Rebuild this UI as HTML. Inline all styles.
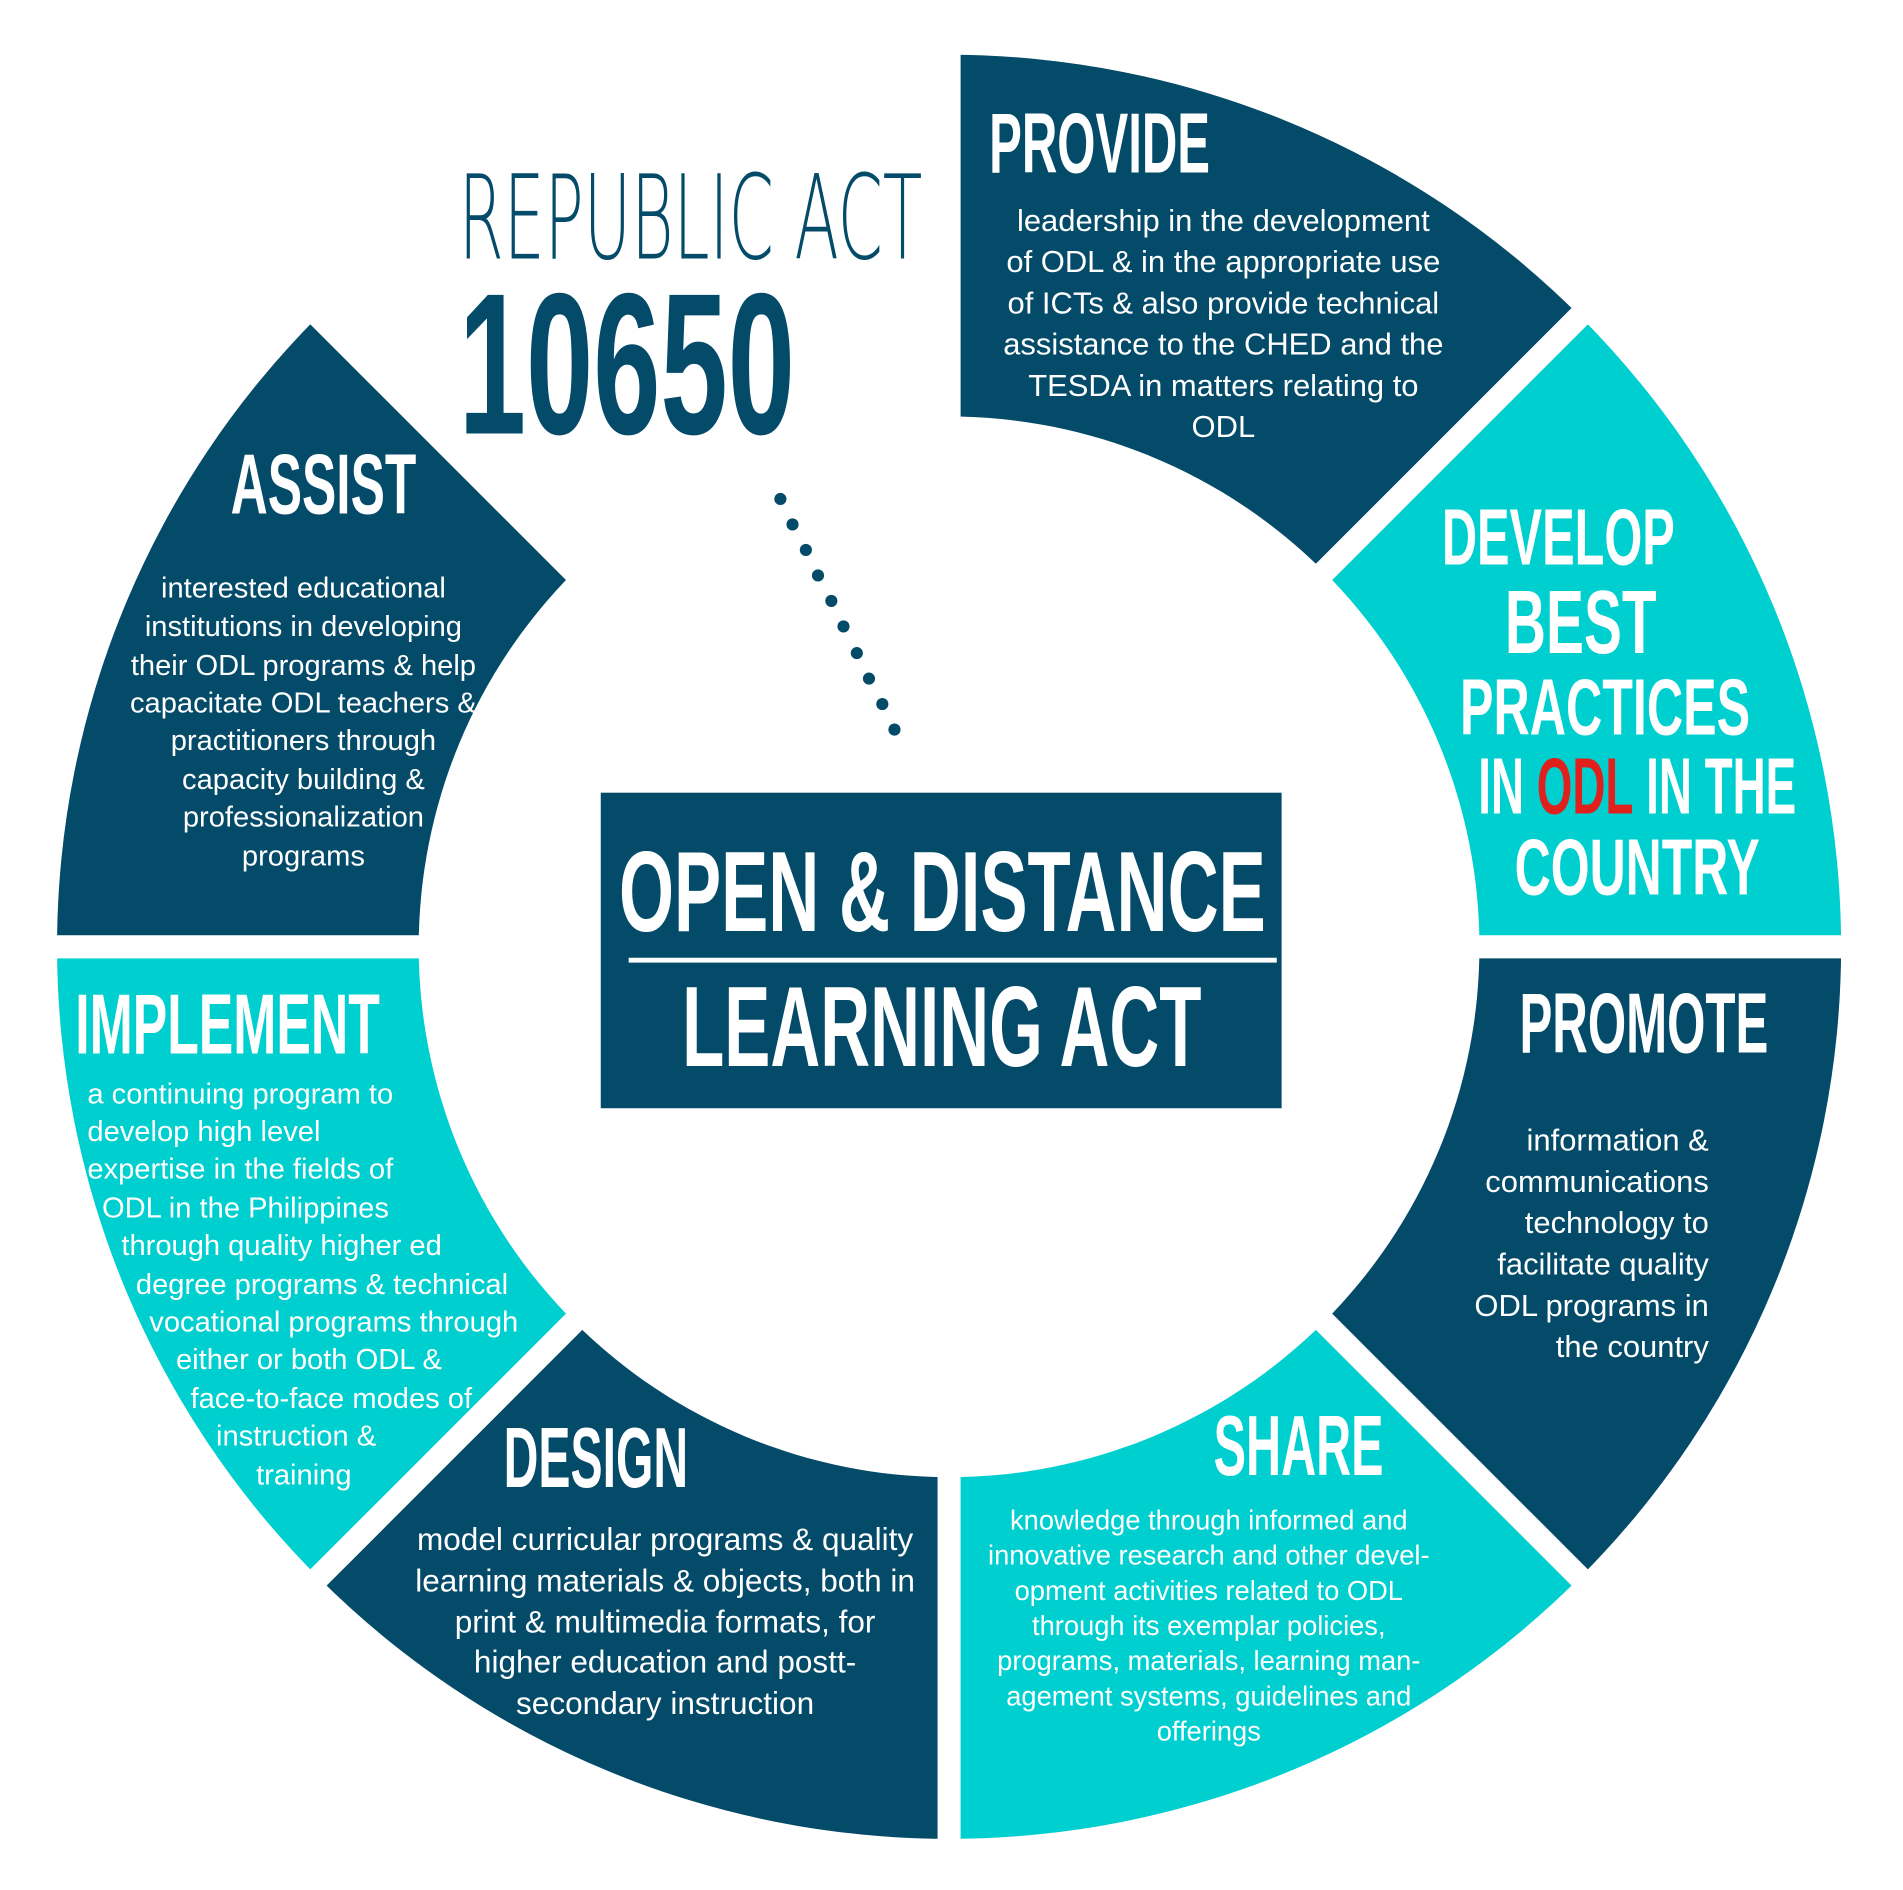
<!DOCTYPE html>
<html><head><meta charset="utf-8"><style>html,body{margin:0;padding:0;background:#fff}svg{display:block}</style></head>
<body>
<svg width="1903" height="1890" viewBox="0 0 1568 1557" xmlns="http://www.w3.org/2000/svg" font-family="'Liberation Sans', sans-serif">
<rect width="1568" height="1557" fill="#fff"/>
<g>
<path d="M782,780 L782,45 A735,735 0 0 1 1301.7,260.3 Z" fill="#044a69"/>
<path d="M782,780 L1301.7,260.3 A735,735 0 0 1 1517,780 Z" fill="#00cfd0"/>
<path d="M782,780 L1517,780 A735,735 0 0 1 1301.7,1299.7 Z" fill="#044a69"/>
<path d="M782,780 L1301.7,1299.7 A735,735 0 0 1 782,1515 Z" fill="#00cfd0"/>
<path d="M782,780 L782,1515 A735,735 0 0 1 262.3,1299.7 Z" fill="#044a69"/>
<path d="M782,780 L262.3,1299.7 A735,735 0 0 1 47,780 Z" fill="#00cfd0"/>
<path d="M782,780 L47,780 A735,735 0 0 1 262.3,260.3 Z" fill="#044a69"/>
</g>
<g stroke="#fff" stroke-width="19">
<line x1="782" y1="0" x2="782" y2="1557"/>
<line x1="0" y1="780" x2="1568" y2="780"/>
<line x1="0" y1="-2" x2="1564" y2="1562"/>
<line x1="0" y1="1562" x2="1564" y2="-2"/>
</g>
<circle cx="782" cy="780" r="437" fill="#fff"/>

<text x="378" y="213" font-size="96" font-family="'DejaVu Sans', sans-serif" font-weight="200" fill="#044a69" textLength="382" lengthAdjust="spacingAndGlyphs">REPUBLIC ACT</text>
<text x="378" y="357" font-size="166" font-weight="bold" fill="#044a69" textLength="277" lengthAdjust="spacingAndGlyphs">10650</text>
<g fill="#044a69">
<circle cx="643" cy="411" r="5"/><circle cx="653" cy="432" r="5"/><circle cx="664" cy="453" r="5"/><circle cx="674" cy="474" r="5"/><circle cx="685" cy="495" r="5"/><circle cx="695" cy="516" r="5"/><circle cx="706" cy="538" r="5"/><circle cx="716" cy="559" r="5"/><circle cx="727" cy="580" r="5"/><circle cx="737" cy="601" r="5"/>
</g>

<rect x="495" y="653" width="561" height="260" fill="#044a69"/>
<text x="510" y="767" font-size="94" font-weight="bold" fill="#fff" textLength="533" lengthAdjust="spacingAndGlyphs">OPEN &amp; DISTANCE</text>
<rect x="518" y="789" width="534" height="4" fill="#fff"/>
<text x="562" y="878" font-size="94" font-weight="bold" fill="#fff" textLength="428" lengthAdjust="spacingAndGlyphs">LEARNING ACT</text>

<g font-weight="bold" fill="#fff" font-size="70">
<text x="815" y="142" textLength="182" lengthAdjust="spacingAndGlyphs">PROVIDE</text>
<text x="190" y="423" textLength="153" lengthAdjust="spacingAndGlyphs">ASSIST</text>
<text x="62" y="868" textLength="251" lengthAdjust="spacingAndGlyphs">IMPLEMENT</text>
<text x="415" y="1225" textLength="152" lengthAdjust="spacingAndGlyphs">DESIGN</text>
<text x="1000" y="1215" textLength="140" lengthAdjust="spacingAndGlyphs">SHARE</text>
<text x="1252" y="867" textLength="205" lengthAdjust="spacingAndGlyphs">PROMOTE</text>
<text x="1188" y="465" font-size="66" textLength="192" lengthAdjust="spacingAndGlyphs">DEVELOP</text>
<text x="1240" y="538" font-size="74" textLength="125" lengthAdjust="spacingAndGlyphs">BEST</text>
<text x="1203" y="605" font-size="66" textLength="239" lengthAdjust="spacingAndGlyphs">PRACTICES</text>
<text x="1218" y="670" font-size="66" textLength="262" lengthAdjust="spacingAndGlyphs">IN <tspan fill="#e0201c">ODL</tspan> IN THE</text>
<text x="1248" y="737" font-size="66" textLength="202" lengthAdjust="spacingAndGlyphs">COUNTRY</text>
</g>

<g fill="#fff" font-size="25.5" text-anchor="middle">
<text x="1008" y="190">leadership in the development</text>
<text x="1008" y="224">of ODL &amp; in the appropriate use</text>
<text x="1008" y="258">of ICTs &amp; also provide technical</text>
<text x="1008" y="292">assistance to the CHED and the</text>
<text x="1008" y="326">TESDA in matters relating to</text>
<text x="1008" y="360">ODL</text>
</g>
<g fill="#fff" font-size="24" text-anchor="middle">
<text x="250" y="492">interested educational</text>
<text x="250" y="524">institutions in developing</text>
<text x="250" y="556">their ODL programs &amp;  help</text>
<text x="250" y="587">capacitate ODL teachers &amp;</text>
<text x="250" y="618">practitioners through</text>
<text x="250" y="650">capacity building &amp;</text>
<text x="250" y="681">professionalization</text>
<text x="250" y="713">programs</text>
</g>
<g fill="#fff" font-size="24">
<text x="72" y="909">a continuing program to</text>
<text x="72" y="940">develop high level</text>
<text x="72" y="971">expertise in the fields of</text>
<text x="84" y="1003">ODL in the Philippines</text>
<text x="100" y="1034">through quality higher ed</text>
<text x="112" y="1066">degree programs &amp; technical</text>
<text x="123" y="1097">vocational programs through</text>
<text x="145" y="1128">either or both ODL &amp;</text>
<text x="157" y="1160">face-to-face modes of</text>
<text x="178" y="1191">instruction &amp;</text>
<text x="211" y="1223">training</text>
</g>
<g fill="#fff" font-size="26" text-anchor="middle">
<text x="548" y="1277">model curricular programs &amp; quality</text>
<text x="548" y="1311">learning materials &amp; objects, both in</text>
<text x="548" y="1345">print &amp; multimedia formats, for</text>
<text x="548" y="1378">higher education and postt-</text>
<text x="548" y="1412">secondary instruction</text>
</g>
<g fill="#fff" font-size="22.5" text-anchor="middle">
<text x="996" y="1260">knowledge through informed and</text>
<text x="996" y="1289">innovative research and other devel-</text>
<text x="996" y="1318">opment activities related to ODL</text>
<text x="996" y="1347">through its exemplar policies,</text>
<text x="996" y="1376">programs, materials, learning man-</text>
<text x="996" y="1405">agement systems, guidelines and</text>
<text x="996" y="1434">offerings</text>
</g>
<g fill="#fff" font-size="25.5" text-anchor="end">
<text x="1408" y="948">information &amp;</text>
<text x="1408" y="982">communications</text>
<text x="1408" y="1016">technology to</text>
<text x="1408" y="1050">facilitate quality</text>
<text x="1408" y="1084">ODL programs in</text>
<text x="1408" y="1118">the country</text>
</g>
</svg>
</body></html>
